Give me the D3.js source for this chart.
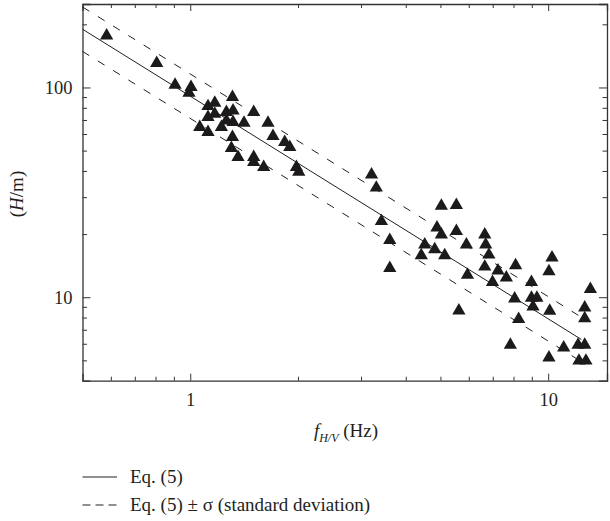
<!DOCTYPE html>
<html>
<head>
<meta charset="utf-8">
<script src="https://cdn.jsdelivr.net/npm/d3@7"></script>
<style>
  body { margin: 0; background: #fff; }
  svg { display: block; }
  text { font-family: "Liberation Serif", "Times New Roman", "DejaVu Serif", serif; fill: #231f20; }
  .axis path, .axis line { stroke: #333; }
</style>
</head>
<body>
<div id="chart"></div>
<script>
const freq = [0.584, 0.806, 0.907, 1.005, 0.992, 1.312, 1.171, 1.121, 1.504, 1.262,
  1.317, 1.171, 1.121, 1.649, 1.413, 1.262, 1.317, 1.222, 1.063, 1.121,
  1.312, 1.703, 1.836, 1.897, 1.303, 1.36, 1.504, 1.504, 1.604, 1.98,
  2.01, 3.21, 3.31, 3.42, 3.61, 3.61, 5.03, 5.54, 4.89, 5.03,
  5.54, 6.65, 6.69, 6.83, 5.91, 4.52, 4.82, 4.42, 5.14, 6.65,
  7.24, 8.11, 5.95, 7.64, 6.99, 8.06, 5.63, 8.27, 10.25, 10.05,
  8.98, 13.12, 8.98, 9.3, 9.07, 10.1, 12.65, 12.65, 7.84, 11.05,
  12.12, 12.65, 10.05, 12.19, 12.75];
const hm = [179.4, 132.9, 104.5, 101.9, 95.7, 91.3, 85.8, 82.7, 77.5, 77.5,
  78.9, 76.0, 73.3, 68.9, 68.9, 70.7, 69.5, 65.8, 65.8, 62.2,
  58.9, 59.6, 55.8, 52.8, 52.2, 47.3, 47.3, 44.8, 42.4, 42.4,
  40.2, 39.0, 33.8, 23.4, 19.0, 14.0, 27.7, 27.9, 21.8, 20.2,
  21.0, 20.2, 18.1, 16.2, 18.1, 18.1, 17.2, 16.1, 16.1, 14.2,
  13.6, 14.4, 13.0, 12.6, 12.0, 10.0, 8.77, 7.99, 15.7, 13.5,
  12.0, 11.1, 10.1, 10.1, 9.16, 8.74, 9.06, 8.06, 6.02, 5.85,
  6.02, 6.02, 5.24, 5.06, 5.06];

// Eq. (5) and +/- sigma lines, end points
const fitF = [0.5, 12.38];
const fitH = [189.6, 6.29];
const upperH = [242, 8.03];
const lowerH = [148.6, 4.93];

const xMajor = [1, 10];
const xMinor = [0.6, 0.7, 0.8, 0.9, 2, 3, 4, 5, 6, 7, 8, 9];
const yMajor = [10, 100];
const yMinor = [5, 6, 7, 8, 9, 20, 30, 40, 50, 60, 70, 80, 90, 200];

const legendLabels = ["Eq. (5)", "Eq. (5) \u00b1 \u03c3 (standard deviation)"];

const serif = "Liberation Serif, Times New Roman, DejaVu Serif, serif";
const svgWidth = 610;
const svgHeight = 521;
const plot = { l: 82.5, r: 607, t: 4, b: 380.7 };

const svg = d3.select("#chart")
  .append("svg")
  .attr("width", svgWidth)
  .attr("height", svgHeight)
  .attr("font-family", serif);

const x = d3.scaleLog().domain([0.5, 14.6]).range([plot.l, plot.r]);
const y = d3.scaleLog().domain([4, 250]).range([plot.b, plot.t]);

const fmt = d => String(d);

// bottom axis, ticks pointing in
svg.append("g").attr("class", "axis")
  .attr("transform", `translate(0,${plot.b})`)
  .call(d3.axisBottom(x).tickValues(xMajor).tickFormat(fmt).tickSize(-7).tickPadding(12))
  .call(g => g.attr("font-family", serif).selectAll("text").attr("font-size", 18.5));
svg.append("g").attr("class", "axis minor")
  .attr("transform", `translate(0,${plot.b})`)
  .call(d3.axisBottom(x).tickValues(xMinor).tickFormat("").tickSize(-4))
  .call(g => g.select(".domain").remove());

// top axis
svg.append("g").attr("class", "axis")
  .attr("transform", `translate(0,${plot.t})`)
  .call(d3.axisTop(x).tickValues(xMajor).tickFormat("").tickSize(-7));
svg.append("g").attr("class", "axis minor")
  .attr("transform", `translate(0,${plot.t})`)
  .call(d3.axisTop(x).tickValues(xMinor).tickFormat("").tickSize(-4))
  .call(g => g.select(".domain").remove());

// left axis
svg.append("g").attr("class", "axis")
  .attr("transform", `translate(${plot.l},0)`)
  .call(d3.axisLeft(y).tickValues(yMajor).tickFormat(fmt).tickSize(-8).tickPadding(10))
  .call(g => g.attr("font-family", serif).selectAll("text").attr("font-size", 18.5));
svg.append("g").attr("class", "axis minor")
  .attr("transform", `translate(${plot.l},0)`)
  .call(d3.axisLeft(y).tickValues(yMinor).tickFormat("").tickSize(-4.5))
  .call(g => g.select(".domain").remove());

// right axis
svg.append("g").attr("class", "axis")
  .attr("transform", `translate(${plot.r},0)`)
  .call(d3.axisRight(y).tickValues(yMajor).tickFormat("").tickSize(-8));
svg.append("g").attr("class", "axis minor")
  .attr("transform", `translate(${plot.r},0)`)
  .call(d3.axisRight(y).tickValues(yMinor).tickFormat("").tickSize(-4.5))
  .call(g => g.select(".domain").remove());

svg.selectAll(".axis .domain").attr("stroke-width", 1.3);

// fit lines
const line = d3.line().x(d => x(d[0])).y(d => y(d[1]));
svg.append("path")
  .datum(d3.zip(fitF, fitH))
  .attr("d", line)
  .attr("fill", "none").attr("stroke", "#231f20").attr("stroke-width", 1);
[upperH, lowerH].forEach(h => {
  svg.append("path")
    .datum(d3.zip(fitF, h))
    .attr("d", line)
    .attr("fill", "none").attr("stroke", "#231f20").attr("stroke-width", 1)
    .attr("stroke-dasharray", "8,10");
});

// points
svg.append("g")
  .selectAll("path")
  .data(d3.zip(freq, hm))
  .join("path")
  .attr("transform", d => `translate(${x(d[0])},${y(d[1]) + 1.5})`)
  .attr("d", d3.symbol(d3.symbolTriangle, 76))
  .attr("fill", "#1c1a1b");

// axis titles
const xt = svg.append("text")
  .attr("x", 346).attr("y", 437)
  .attr("text-anchor", "middle")
  .attr("font-size", 19);
xt.append("tspan").attr("font-style", "italic").text("f");
xt.append("tspan").attr("font-style", "italic").attr("font-size", 12)
  .attr("dy", 5).text("H/V");
xt.append("tspan").attr("dy", -5).text(" (Hz)");

const yt = svg.append("text")
  .attr("transform", "translate(23,194) rotate(-90)")
  .attr("text-anchor", "middle")
  .attr("font-size", 19);
yt.append("tspan").text("(");
yt.append("tspan").attr("font-style", "italic").text("H");
yt.append("tspan").text("/m)");

// legend
const legend = svg.append("g");
legendLabels.forEach((t, i) => {
  const ly = 483 + i * 28;
  legend.append("line")
    .attr("x1", 82.5).attr("x2", 117)
    .attr("y1", ly - 6).attr("y2", ly - 6)
    .attr("stroke", "#231f20").attr("stroke-width", 1)
    .attr("stroke-dasharray", i === 0 ? null : "8,5");
  legend.append("text")
    .attr("x", 130).attr("y", ly)
    .attr("font-size", 19)
    .text(t);
});
</script>
</body>
</html>
